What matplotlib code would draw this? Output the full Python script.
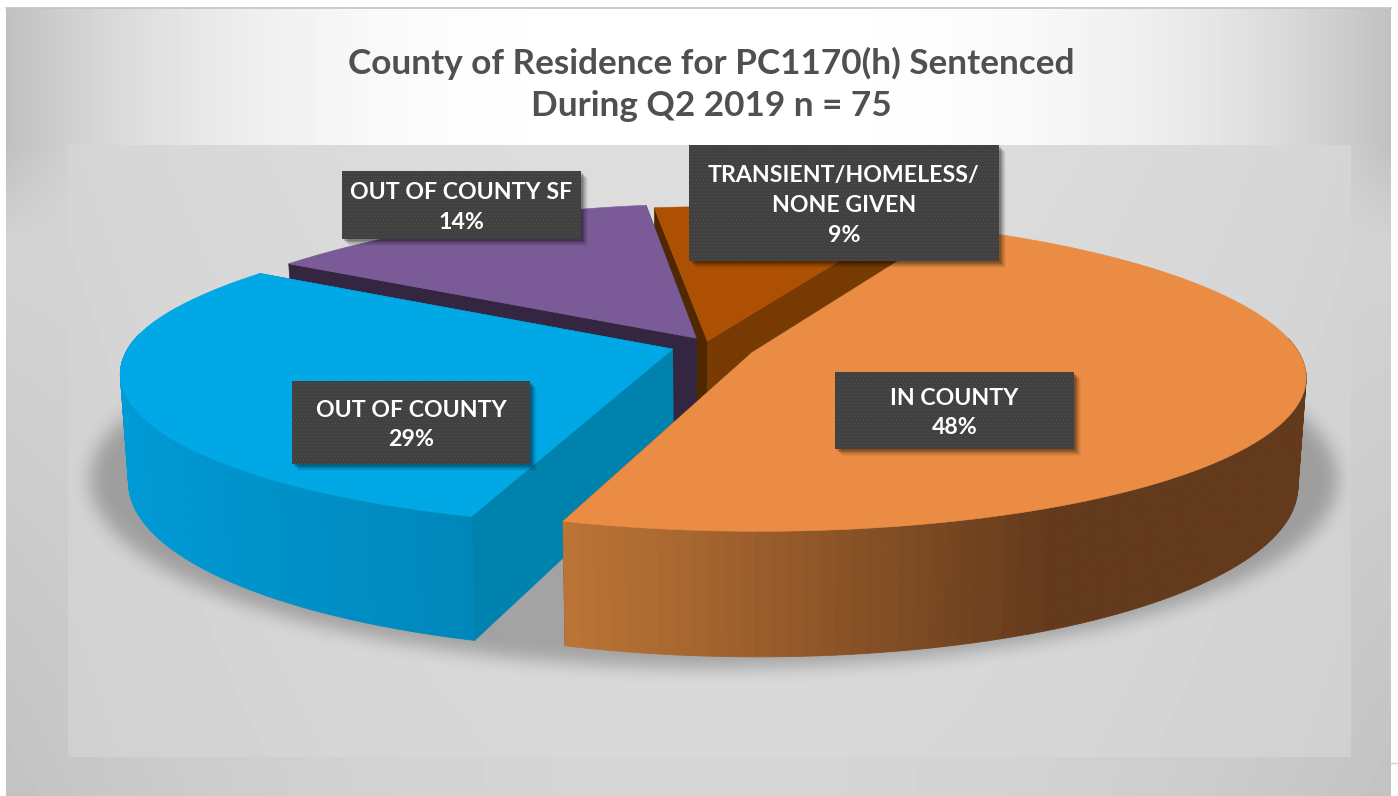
import matplotlib

matplotlib.use("Agg")
import matplotlib.pyplot as plt
import numpy as np
from matplotlib.colors import to_rgb
from matplotlib.patches import Polygon, Rectangle
from matplotlib.path import Path

title_lines = ["County of Residence for PC1170(h) Sentenced", "During Q2 2019 n = 75"]
categories = ["IN COUNTY", "OUT OF COUNTY", "OUT OF COUNTY SF", "TRANSIENT/HOMELESS/\nNONE GIVEN"]
shares = [48, 29, 14, 9]

top_colors = ["#EA8C43", "#00A8E6", "#7B5B97", "#AE5004"]
rim_colors = [("#BF7637", "#633A1C"), ("#0087BA", "#009AD6"), ("#342540", "#342540"), ("#773A03", "#4F2800")]
wall_colors = [("#633A1C", "#633A1C"), ("#0082AF", "#0082AF"), ("#342540", "#342540"), ("#4F2800", "#773A03")]
# left, right, top, bottom of each label box in pixels
label_boxes = [(835, 1074, 372, 449), (292, 530, 381, 464), (342, 581, 171, 239), (689, 999, 145, 261)]
# small per-slice corrections to the explosion offset
nudge_u = [0.004, -0.01, 0.005, -0.023]
nudge_v = [-0.012, 0.01, 0.0, -0.03]

start_angle = 65.0
explode = 0.07
CX, CY = 714.0, 347.0
RX, RY = 544.0, 150.0
PERSP = 0.15
DEPTH = 106.0

plt.rcParams["font.family"] = ["Lato", "DejaVu Sans"]


def project(u, v, bottom=False):
    u = np.asarray(u, dtype=float)
    v = np.asarray(v, dtype=float)
    w = 1 + PERSP * v
    back = np.clip(v, 0, None) ** 2
    x = CX + RX * u / w + 45 * back * np.clip(-u, 0, None)
    y = CY - RY * v / w - 5 * back
    if bottom:
        x = x + (CX - x) * 0.014
        y = y + DEPTH / w
    return x, y


def slice_uv(i, a0, a1, n=120):
    # a0 > a1, going clockwise
    mid = np.radians((a0 + a1) / 2)
    du = explode * np.cos(mid) + nudge_u[i]
    dv = explode * np.sin(mid) + nudge_v[i]
    t = np.radians(np.linspace(a0, a1, n))
    return du, dv, du + np.cos(t), dv + np.sin(t), t


def mix(c0, c1, t):
    return tuple(np.array(to_rgb(c0)) * (1 - t) + np.array(to_rgb(c1)) * t)


def background():
    yy, xx = np.mgrid[0:796, 0:1398]
    dx = np.abs(xx - 700) / 700.0
    top = 255 - 65 * dx**3
    low = 214 - dx**2 * (8 + 12 * (yy - 400) / 400.0)
    t = np.clip((yy - 145) / 100.0, 0, 1)
    grey = top * (1 - t) + low * t
    inner = 221 - 8 * (np.abs(xx - 710) / 640.0) ** 2 - 5 * (yy - 145) / 612.0
    mask = (xx >= 68) & (xx < 1351) & (yy >= 145) & (yy < 757)
    grey = np.where(mask, inner, grey)
    outside = (xx < 6) | (xx >= 1391) | (yy < 8)
    grey = np.where(outside, 255, grey)
    return grey


def box_blur(a, size, axis):
    c = np.cumsum(np.insert(a, 0, 0, axis=axis), axis=axis)
    hi = np.clip(np.arange(a.shape[axis]) + size + 1, 0, a.shape[axis])
    lo = np.clip(np.arange(a.shape[axis]) - size, 0, a.shape[axis])
    return (np.take(c, hi, axis=axis) - np.take(c, lo, axis=axis)) / (hi - lo).reshape(
        [-1 if k == axis else 1 for k in range(a.ndim)]
    )


def shadow():
    t = np.radians(np.linspace(0, 360, 360))
    x, y = project(np.cos(t), np.sin(t), bottom=True)
    x = CX + (x - CX) * 1.15
    y = 470 + (y - 470) * 1.11
    yy, xx = np.mgrid[0:796, 0:1398]
    pts = np.c_[xx.ravel() + 0.5, yy.ravel() + 0.5]
    m = Path(np.c_[x, y]).contains_points(pts).reshape(xx.shape).astype(float)
    for _ in range(3):
        m = box_blur(m, 8, 0)
        m = box_blur(m, 8, 1)
    rgba = np.zeros(m.shape + (4,))
    rgba[..., 3] = m * 0.25
    rgba[:145, :, 3] = 0
    rgba[757:, :, 3] = 0
    rgba[:, :68, 3] = 0
    rgba[:, 1351:, 3] = 0
    return rgba


def main():
    fig = plt.figure(figsize=(13.98, 7.96), dpi=100)
    ax = fig.add_axes([0, 0, 1, 1])
    ax.imshow(background(), cmap="gray", vmin=0, vmax=255, extent=(0, 1398, 796, 0), aspect="auto", zorder=0)
    ax.plot([6, 1391], [8, 8], color="#c4c4c4", lw=1.2, zorder=1)
    ax.plot([1391, 1398], [763, 763], color="#d0d0d0", lw=1, zorder=1)
    ax.imshow(shadow(), extent=(0, 1398, 796, 0), aspect="auto", zorder=2)

    fracs = np.array(shares) / sum(shares)
    edges = start_angle - np.concatenate([[0], np.cumsum(fracs) * 360])

    # back slices first
    order = [3, 2, 1, 0]
    for k, i in enumerate(order):
        z = 3 + k
        du, dv, u, v, t = slice_uv(i, edges[i], edges[i + 1])
        xt, yt = project(u, v)
        xb, yb = project(u, v, bottom=True)
        ax_t, ay_t = project(du, dv)
        ax_b, ay_b = project(du, dv, bottom=True)

        for end, col in zip((0, -1), wall_colors[i]):
            wall = [(ax_t, ay_t), (xt[end], yt[end]), (xb[end], yb[end]), (ax_b, ay_b)]
            ax.add_patch(Polygon(wall, closed=True, fc=col, ec=col, lw=0.4, zorder=z))

        # rim, shaded along the screen x; the far side of the arc faces away
        lo, hi = xt.min(), xt.max()
        for j in range(len(xt) - 1):
            if np.sin(t[j]) > 0.1:
                continue
            if i == 0:
                tt = np.clip((xt[j] - 562) / 500.0, 0, 1)
            else:
                tt = 1 - np.clip((xt[j] - lo) / (hi - lo), 0, 1)
            col = mix(rim_colors[i][0], rim_colors[i][1], tt)
            quad = [(xt[j], yt[j]), (xt[j + 1], yt[j + 1]), (xb[j + 1], yb[j + 1]), (xb[j], yb[j])]
            ax.add_patch(Polygon(quad, closed=True, fc=col, ec=col, lw=0.6, zorder=z))

        top = np.c_[np.r_[ax_t, xt], np.r_[ay_t, yt]]
        ax.add_patch(Polygon(top, closed=True, fc=top_colors[i], ec=top_colors[i], lw=0.4, zorder=z))

    # data labels
    plt.rcParams["hatch.linewidth"] = 0.6
    for name, share, (l, r, b_t, b) in zip(categories, shares, label_boxes):
        for off, alpha in ((7, 0.04), (6, 0.06), (5, 0.07), (4, 0.09), (3, 0.12), (2, 0.15)):
            ax.add_patch(Rectangle((l + off, b_t + off), r - l, b - b_t, fc="black", ec="none", alpha=alpha, zorder=10))
        ax.add_patch(Rectangle((l, b_t), r - l, b - b_t, fc="#404040", ec="#4e4e4e", hatch=".....", lw=0, zorder=11))
        ax.text((l + r) / 2, (b_t + b) / 2 + 2.5, f"{name}\n{share}%", color="white", fontsize=16.7, fontweight="bold",
                ha="center", va="center", linespacing=1.52, zorder=12)

    ax.text(711, 63, title_lines[0], color="#505050", fontsize=25.3, fontweight="bold", ha="center", va="center", zorder=12)
    ax.text(711, 106, title_lines[1], color="#505050", fontsize=25.3, fontweight="bold", ha="center", va="center", zorder=12)

    ax.set_xlim(0, 1398)
    ax.set_ylim(796, 0)
    ax.axis("off")
    fig.savefig("out.png", dpi=100)


if __name__ == "__main__":
    main()
